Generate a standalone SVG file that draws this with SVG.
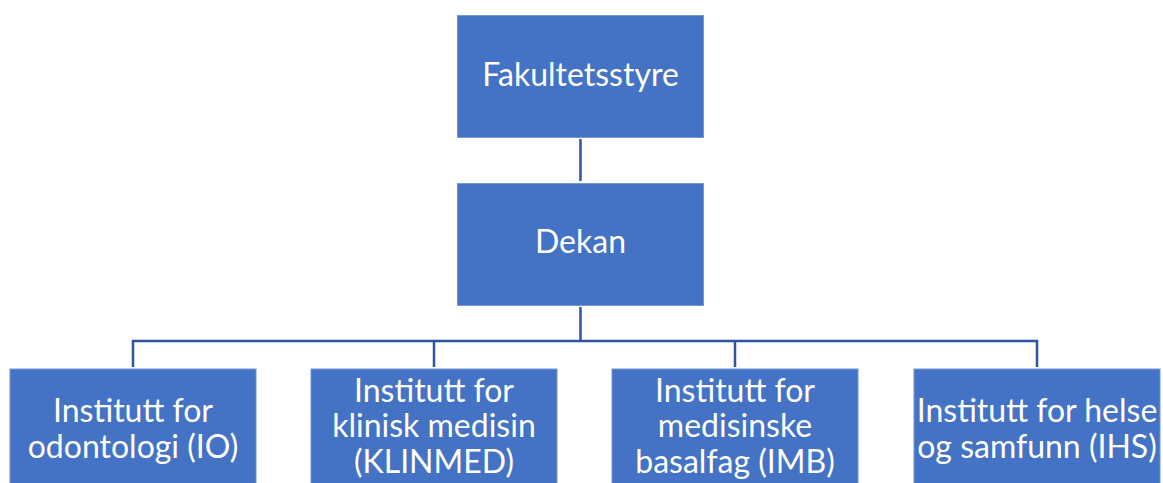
<svg xmlns="http://www.w3.org/2000/svg" width="1163" height="483" viewBox="0 0 1163 483">
<style>
.box{fill:#4472C4;stroke:#7396d4;stroke-width:1}
.lbl{fill:#ffffff;font-family:Lato,"Open Sans","Liberation Sans",sans-serif;font-size:32px;text-anchor:middle}
.conn{fill:none;stroke:#2F55A0;stroke-width:2.5}
</style>
<rect width="1163" height="483" fill="#ffffff"/>
<g id="connectors">
<line class="conn" x1="580.5" y1="139" x2="580.5" y2="181"/>
<line class="conn" x1="580.5" y1="307" x2="580.5" y2="341"/>
<polyline class="conn" points="133,367 133,341 1037,341 1037,367"/>
<line class="conn" x1="434" y1="341" x2="434" y2="367"/>
<line class="conn" x1="735" y1="341" x2="735" y2="367"/>
</g>
<g id="fakultetsstyre">
<rect class="box" x="457.5" y="15.5" width="246" height="122"/>
<text class="lbl" x="580.5" y="86">Fakultetsstyre</text>
</g>
<g id="dekan">
<rect class="box" x="457.5" y="183.5" width="246" height="122"/>
<text class="lbl" x="580.5" y="253">Dekan</text>
</g>
<g id="io">
<rect class="box" x="10" y="369" width="246" height="123"/>
<text class="lbl" x="133" y="421.5">Institutt for</text>
<text class="lbl" x="133" y="457.5">odontologi (IO)</text>
</g>
<g id="klinmed">
<rect class="box" x="311" y="369" width="246" height="123"/>
<text class="lbl" x="434" y="401.5">Institutt for</text>
<text class="lbl" x="434" y="437">klinisk medisin</text>
<text class="lbl" x="434" y="472.5">(KLINMED)</text>
</g>
<g id="imb">
<rect class="box" x="612" y="369" width="246" height="123"/>
<text class="lbl" x="735" y="401.5">Institutt for</text>
<text class="lbl" x="735" y="437">medisinske</text>
<text class="lbl" x="735" y="472.5">basalfag (IMB)</text>
</g>
<g id="ihs">
<rect class="box" x="914" y="369" width="246" height="123"/>
<text class="lbl" x="1037" y="421.5">Institutt for helse</text>
<text class="lbl" x="1037" y="457.5">og samfunn (IHS)</text>
</g>
</svg>
